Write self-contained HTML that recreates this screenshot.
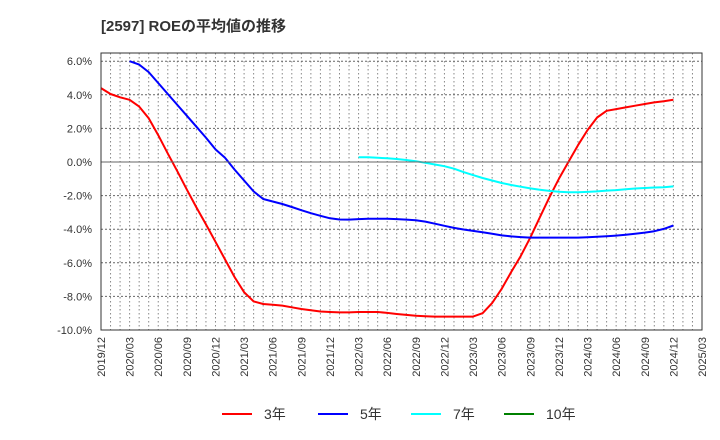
<!DOCTYPE html>
<html><head><meta charset="utf-8"><style>
body{margin:0;background:#fff;}
svg{display:block;font-family:"Liberation Sans","Noto Sans CJK JP",sans-serif;}
</style></head><body>
<svg id="c" width="720" height="440">
<text x="101" y="31" font-size="15" font-weight="bold" fill="#333">[2597]  ROEの平均値の推移</text>
<g id="grid"></g><g id="lines"></g><g id="axes"></g>
<g id="legend"></g>
</svg>
<script>
const xLabels=["2019/12","2020/03","2020/06","2020/09","2020/12","2021/03","2021/06","2021/09","2021/12","2022/03","2022/06","2022/09","2022/12","2023/03","2023/06","2023/09","2023/12","2024/03","2024/06","2024/09","2024/12","2025/03"];
const yTicks=[6,4,2,0,-2,-4,-6,-8,-10];
const roe3=[4.4,4.05,3.85,3.7,3.3,2.6,1.6,0.5,-0.55,-1.65,-2.7,-3.7,-4.75,-5.8,-6.85,-7.75,-8.3,-8.45,-8.5,-8.55,-8.65,-8.75,-8.83,-8.9,-8.93,-8.95,-8.95,-8.93,-8.93,-8.93,-8.98,-9.05,-9.1,-9.15,-9.18,-9.2,-9.2,-9.2,-9.2,-9.2,-9.0,-8.4,-7.55,-6.55,-5.6,-4.5,-3.3,-2.1,-1.0,0,1.0,1.9,2.65,3.05,3.15,3.25,3.35,3.45,3.55,3.62,3.7];
const roe5=[null,null,null,6.0,5.8,5.35,4.7,4.05,3.4,2.75,2.1,1.45,0.75,0.25,-0.45,-1.1,-1.75,-2.2,-2.35,-2.5,-2.68,-2.87,-3.05,-3.2,-3.35,-3.42,-3.43,-3.4,-3.38,-3.38,-3.38,-3.4,-3.43,-3.47,-3.55,-3.67,-3.8,-3.92,-4.02,-4.1,-4.18,-4.27,-4.37,-4.43,-4.47,-4.5,-4.5,-4.5,-4.5,-4.5,-4.5,-4.48,-4.45,-4.42,-4.38,-4.33,-4.27,-4.2,-4.12,-3.98,-3.78];
const roe7=[];for(let i=0;i<27;i++)roe7.push(null);
roe7.push(0.28,0.28,0.25,0.22,0.18,0.12,0.05,-0.05,-0.15,-0.25,-0.4,-0.6,-0.78,-0.95,-1.1,-1.25,-1.37,-1.47,-1.57,-1.65,-1.72,-1.77,-1.8,-1.8,-1.78,-1.75,-1.7,-1.67,-1.62,-1.58,-1.55,-1.52,-1.5,-1.45);
const roe10=[];
const L=101,R=702,T=53,B=330,NM=63;
const X=m=>L+m*(R-L)/NM;
const Y=v=>162+(0-v)*(330-162)/10;
const NS="http://www.w3.org/2000/svg";
function mk(p,t,a){const e=document.createElementNS(NS,t);for(const k in a)e.setAttribute(k,a[k]);p.appendChild(e);return e;}
const grid=document.getElementById('grid'),axes=document.getElementById('axes'),lines=document.getElementById('lines'),leg=document.getElementById('legend');
for(let m=1;m<NM;m++){const l=mk(grid,'line',{x1:X(m),x2:X(m),y1:T,y2:B,stroke:'#888','stroke-width':1,'stroke-dasharray':'1.5,2.5'});

}
yTicks.forEach(v=>{const y=Y(v);
if(v!==0&&v!==-10){const g=mk(grid,'line',{x1:L,x2:R,y1:y,y2:y,stroke:'#666','stroke-width':1,'stroke-dasharray':'2,2'});

}
const t=mk(axes,'text',{x:92,y:y+4,'font-size':11,'text-anchor':'end',fill:'#333'});


t.textContent=v.toFixed(1)+'%';});
const z=mk(axes,'line',{x1:L,x2:R,y1:Y(0),y2:Y(0),stroke:'#666','stroke-width':1});


const fr=mk(axes,'rect',{x:L,y:T,width:R-L,height:B-T,fill:'none',stroke:'#333','stroke-width':1});


xLabels.forEach((s,i)=>{const x=X(i*3);const t=mk(axes,'text',{transform:`translate(${x+4},337) rotate(-90)`,'font-size':11,'text-anchor':'end',fill:'#333'});


t.textContent=s;});
function series(arr,color,name){let d='';let pen=false;arr.forEach((v,i)=>{if(v==null){pen=false;return;}d+=(pen?'L':'M')+X(i).toFixed(1)+','+Y(v).toFixed(1);pen=true;});
if(!d)return;const p=mk(lines,'path',{d:d,fill:'none',stroke:color,'stroke-width':2,'stroke-linejoin':'round'});

}
series(roe3,'#ff0000','roe-3y-line');
series(roe5,'#0000ff','roe-5y-line');
series(roe7,'#00ffff','roe-7y-line');
series(roe10,'#008000','roe-10y-line');
[['3年','#ff0000',222],['5年','#0000ff',318],['7年','#00ffff',411],['10年','#008000',504]].forEach(e=>{
const g=mk(leg,'g',{});


mk(g,'line',{x1:e[2],x2:e[2]+30,y1:414,y2:414,stroke:e[1],'stroke-width':2});
const t=mk(g,'text',{x:e[2]+42,y:419,'font-size':14,fill:'#333'});t.textContent=e[0];});
</script>
</body></html>
